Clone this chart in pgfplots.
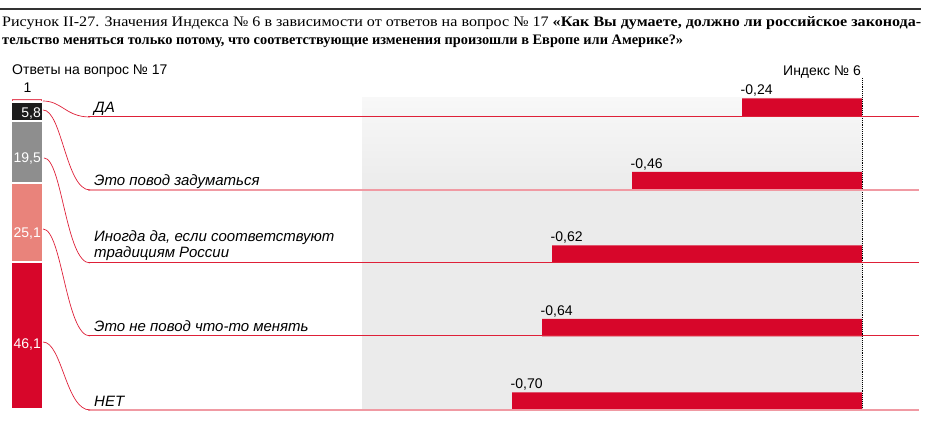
\documentclass[border=0pt]{standalone}
\usepackage{pgfplots}
\usepackage{pgfplotstable}
\pgfplotsset{compat=1.18}
\usepackage{fontspec}
\setmainfont{Liberation Serif}
\newfontfamily\sans{Liberation Sans}
\usepackage{graphicx}

\definecolor{cRed}{HTML}{D7062A}
\definecolor{cSalmon}{HTML}{E9837B}
\definecolor{cGrayBar}{HTML}{8E8E8E}
\definecolor{cBlack}{HTML}{1C1C1C}
\definecolor{cLine}{HTML}{DE2038}
\definecolor{cPinkLine}{HTML}{F09AA3}
\definecolor{cBg}{HTML}{EBEBEB}
\definecolor{cBgTop}{HTML}{F8F8F8}
\definecolor{cRule}{HTML}{333333}

% Index No 6 by answer (row 1 = top)
\pgfplotstableread{
val row label
-0.24 1 {-0,24}
-0.46 2 {-0,46}
-0.62 3 {-0,62}
-0.64 4 {-0,64}
-0.70 5 {-0,70}
}\indexdata

\begin{document}
\begin{tikzpicture}
% ---- main axis: index bars ----
\begin{axis}[at={(0pt,0pt)}, anchor=south west, scale only axis,
  width=930pt, height=429pt,
  xmin=-1.724, xmax=0.136, ymin=-0.4558, ymax=5.381, y dir=reverse,
  hide axis, clip=false]
\fill[top color=cBgTop, bottom color=cBg] (axis cs:-1,0.864) rectangle (axis cs:0,2.13);
\fill[cBg] (axis cs:-1,2.12) rectangle (axis cs:0,5.122);
\addplot[xbar, bar width=17.5pt, fill=cRed, draw=none,
  nodes near coords, point meta=explicit symbolic,
  every node near coord/.append style={anchor=base west, inner sep=0pt,
    xshift=-1.5pt, yshift=12.5pt, font=\sans\fontsize{14}{14}\selectfont, text=black}]
  table[x=val, y=row, meta=label] {\indexdata};
\draw[densely dotted, line width=0.9pt] (axis cs:0,0.605) -- (axis cs:0,5.15);
\end{axis}

% ---- stacked bar: answers to question No 17 (%) ----
\begin{axis}[at={(11pt,20pt)}, anchor=south west, scale only axis,
  width=32pt, height=310pt, xmin=-0.5, xmax=0.5, ymin=0, ymax=97.5,
  hide axis, ybar stacked, bar width=32pt, clip=false]
\addplot[fill=cRed, draw=white, line width=2pt] coordinates {(0,46.1)};
\addplot[fill=cSalmon, draw=white, line width=2pt] coordinates {(0,25.1)};
\addplot[fill=cGrayBar, draw=white, line width=2pt] coordinates {(0,19.5)};
\addplot[fill=cBlack, draw=white, line width=2pt] coordinates {(0,5.8)};
\addplot[fill=cLine!12, draw=cLine!80, line width=0.8pt, bar width=29pt] coordinates {(0,1)};
\end{axis}

% ---- texts, connectors (pixel-like frame, y downwards) ----
\begin{scope}[x=1pt, y=-1pt, shift={(0pt,429pt)}]
\path[use as bounding box] (0,0) rectangle (930,429);
\fill[cRule] (0,7.8) rectangle (921,10);
\node[anchor=base west, inner sep=0pt] at (2,27) {\resizebox{919pt}{\height}{\fontsize{14.5}{16}\selectfont Рисунок II-27. Значения Индекса №~6 в~зависимости от ответов на вопрос №~17 \textbf{«Как Вы думаете, должно ли российское законода-}}};
\node[anchor=base west, inner sep=0pt] at (2,44.5) {\resizebox{681pt}{\height}{\fontsize{14.5}{16}\selectfont\bfseries тельство меняться только потому, что соответствующие изменения произошли в~Европе или Америке?»}};

\begin{scope}[every node/.style={inner sep=0pt, font=\sans\fontsize{14}{14}\selectfont}]
\node[anchor=base west] at (12,75) {Ответы на вопрос №~17};
\node[anchor=base] at (27.5,93) {1};
\node[anchor=base east] at (861,75.5) {Индекс №~6};
\end{scope}

\begin{scope}[every node/.style={inner sep=0pt, anchor=base east, text=white, font=\sans\fontsize{14}{14}\selectfont}]
\node at (41,118) {5,8};
\node at (41,163) {19,5};
\node at (41,237.5) {25,1};
\node at (41,348) {46,1};
\end{scope}

\begin{scope}[every node/.style={inner sep=0pt, anchor=base west, font=\sans\itshape\fontsize{15}{15}\selectfont}]
\node at (94,112.5) {ДА};
\node at (94,185.5) {Это повод задуматься};
\node at (94,242) {Иногда да, если соответствуют};
\node at (94,258) {традициям России};
\node at (94,332) {Это не повод что-то менять};
\node at (94,406) {НЕТ};
\end{scope}

% row lines
\draw[draw=cLine, line width=1pt] (88,117) -- (919,117);
\draw[draw=cPinkLine, line width=1.5pt] (88,190) -- (919,190);
\draw[draw=cLine, line width=1pt] (88,263) -- (919,263);
\draw[draw=cLine, line width=1pt] (88,336) -- (919,336);
\draw[draw=cPinkLine, line width=1.5pt] (88,410) -- (919,410);
% connectors
\begin{scope}[line width=0.7pt]
\draw[draw=cLine] (43,101) .. controls (62,101) and (66,117) .. (90,117);
\draw[draw=cLine] (43,110) .. controls (62,110) and (66,190) .. (90,190);
\draw[draw=cLine] (44,158) .. controls (62,158) and (66,263) .. (90,263);
\draw[draw=cLine] (43,229) .. controls (62,229) and (66,336) .. (90,336);
\draw[draw=cLine] (43,342) .. controls (62,342) and (66,410) .. (90,410);
\end{scope}
\end{scope}
\end{tikzpicture}
\end{document}
